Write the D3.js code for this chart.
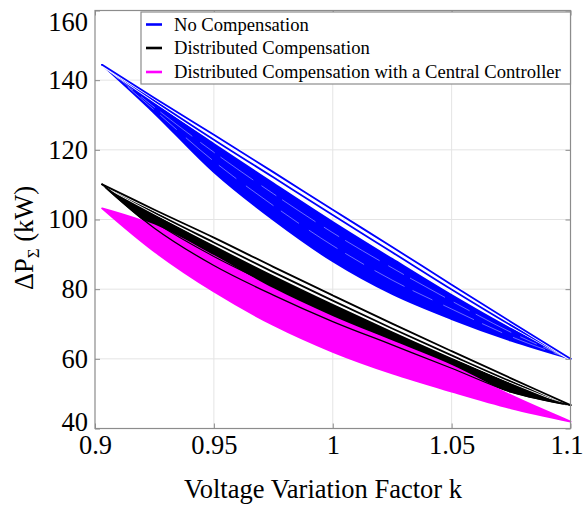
<!DOCTYPE html>
<html><head><meta charset="utf-8">
<script src="https://cdn.jsdelivr.net/npm/d3@7"></script>
<style>
body{margin:0;background:#fff}
svg{display:block}
text{font-family:"Liberation Serif","Times New Roman",Times,serif;fill:#000}
</style>
</head><body>
<svg id="c" width="584" height="505"></svg>
<script>
// ---------- data ----------
const xTicks = [0.9, 0.95, 1, 1.05, 1.1];
const xTickLabels = ["0.9", "0.95", "1", "1.05", "1.1"];
const yTicks = [40, 60, 80, 100, 120, 140, 160];
const yTickLabels = ["40", "60", "80", "100", "120", "140", "160"];
const seriesNames = ["No Compensation", "Distributed Compensation", "Distributed Compensation with a Central Controller"];
const seriesColors = ["#0000ff", "#000000", "#ff00ff"];
const kGrid = [0.903, 0.925, 0.95, 0.975, 1.0, 1.025, 1.05, 1.075, 1.1];

// No Compensation (blue) bundle of traces
const blueTop      = [144.4, 134.9, 124.3, 113.6, 102.8, 92.1, 81.3, 70.6, 60.0];
const blueSecond   = [144.4, 134.1, 122.9, 112.1, 101.3, 90.6, 79.9, 69.6, 60.0];
const blueBandTop  = [144.4, 133.3, 121.7, 110.4, 99.3, 88.7, 78.3, 68.6, 60.0];
const blueLower    = [144.4, 130.5, 113.6, 99.9, 88.0, 78.6, 71.4, 65.2, 60.0];
const blueGapA     = [144.4, 132.2, 119.3, 107.4, 96.2, 86.1, 76.6, 67.6, 60.0];
const blueGapB     = [144.4, 131.4, 116.7, 104.0, 92.5, 82.6, 74.3, 66.4, 60.0];

// Distributed Compensation (black) bundle of traces
const blackTop     = [110.1, 102.8, 94.8, 86.4, 78.2, 70.1, 62.2, 54.4, 46.7];
const blackSecond  = [110.1, 102.0, 93.4, 84.9, 76.7, 68.7, 61.0, 53.5, 46.7];
const blackBandTop = [110.1, 101.3, 92.3, 83.7, 75.5, 67.6, 60.0, 52.8, 46.7];
const blackMid     = [110.1, 99.3, 89.4, 81.0, 73.2, 66.0, 58.8, 51.8, 46.7];
const blackLower   = [110.1, 97.5, 86.8, 78.3, 70.7, 64.0, 57.3, 50.5, 46.7];

// Distributed Compensation with a Central Controller (magenta) bundle of traces
const pinkTop      = [103.2, 98.3, 89.5, 80.0, 72.0, 65.0, 58.0, 49.5, 42.0];
const pinkLower    = [103.2, 90.8, 79.3, 69.7, 62.0, 55.8, 50.6, 45.8, 42.0];

// ---------- chart ----------
const svg = d3.select("#c");
const x = d3.scaleLinear().domain([0.9, 1.1]).range([95, 570.5]);
const y = d3.scaleLinear().domain([40, 160]).range([428.5, 10.5]);
const [x0, x1] = x.range();
const [yb, yt] = y.range();

// grid
const grid = svg.append("g");
grid.selectAll("line.gx").data(xTicks.slice(1, -1)).join("line")
  .attr("x1", d => x(d)).attr("x2", d => x(d)).attr("y1", yt).attr("y2", yb)
  .attr("stroke", "#e4e4e4").attr("stroke-width", 1);
grid.selectAll("line.gy").data(yTicks.slice(1, -1)).join("line")
  .attr("y1", d => y(d)).attr("y2", d => y(d)).attr("x1", x0).attr("x2", x1)
  .attr("stroke", "#e4e4e4").attr("stroke-width", 1);

const curve = d3.curveCatmullRom.alpha(0.5);
const pts = arr => arr.map((v, i) => [kGrid[i], v]);
const line = d3.line().x(d => x(d[0])).y(d => y(d[1])).curve(curve);
const area = (top, low) => d3.area().x((d, i) => x(kGrid[i]))
  .y0((d, i) => y(low[i])).y1((d, i) => y(top[i])).curve(curve)(top);

const plot = svg.append("g");
function band(top, low, color) {
  plot.append("path").attr("d", area(top, low)).attr("fill", color)
    .attr("stroke", color).attr("stroke-width", 1.8).attr("stroke-linejoin", "round");
}
function strand(arr, color, w, halo) {
  if (halo) plot.append("path").attr("d", line(pts(arr))).attr("fill", "none")
    .attr("stroke", "#fff").attr("stroke-width", w + 1.6);
  plot.append("path").attr("d", line(pts(arr))).attr("fill", "none")
    .attr("stroke", color).attr("stroke-width", w).attr("stroke-linecap", "round");
}
function streak(arr, dash) {
  plot.append("path").attr("d", line(pts(arr))).attr("fill", "none")
    .attr("stroke", "#fff").attr("stroke-width", 0.7).attr("stroke-opacity", 0.6)
    .attr("stroke-dasharray", dash);
}

// blue
band(blueBandTop, blueLower, seriesColors[0]);
streak(blueGapA, "40,10,18,7");
streak(blueGapB, "22,12,34,9");
strand(blueSecond, seriesColors[0], 1.8, true);
strand(blueTop, seriesColors[0], 1.8, true);
// black
band(blackBandTop, blackLower, seriesColors[1]);
strand(blackSecond, seriesColors[1], 1.8, true);
strand(blackTop, seriesColors[1], 1.8, true);
// magenta
band(pinkTop, pinkLower, seriesColors[2]);
strand(blackMid, seriesColors[1], 1.1, false);
strand(blackLower, seriesColors[1], 1.3, false);

// axes
const fs = 26.5;
const axB = svg.append("g").attr("transform", `translate(0,${yb})`)
  .call(d3.axisBottom(x).tickValues(xTicks).tickFormat((d, i) => xTickLabels[i]).tickSize(-5).tickPadding(6.7));
const axL = svg.append("g").attr("transform", `translate(${x0},0)`)
  .call(d3.axisLeft(y).tickValues(yTicks).tickFormat((d, i) => yTickLabels[i]).tickSize(-5).tickPadding(7));
const axT = svg.append("g").attr("transform", `translate(0,${yt})`)
  .call(d3.axisTop(x).tickValues(xTicks).tickFormat("").tickSize(-5));
const axR = svg.append("g").attr("transform", `translate(${x1},0)`)
  .call(d3.axisRight(y).tickValues(yTicks).tickFormat("").tickSize(-5));
[axB, axL, axT, axR].forEach(a => {
  a.attr("font-family", null).attr("font-size", null);
  a.select(".domain").remove();
  a.selectAll(".tick line").attr("stroke", "#8c8c8c");
  a.selectAll("text").style("font-size", fs + "px").attr("fill", "#000");
});
// edge labels kept inside like the original
axL.selectAll(".tick text").filter(d => d === 160).attr("dy", "0.76em");
axL.selectAll(".tick text").filter(d => d === 40).attr("dy", "0.08em");
axB.selectAll(".tick text").filter(d => d === 1.1).attr("dx", "-4");

svg.append("rect").attr("x", x0).attr("y", yt).attr("width", x1 - x0).attr("height", yb - yt)
  .attr("fill", "none").attr("stroke", "#8c8c8c").attr("stroke-width", 1.2);

// axis titles
svg.append("text").attr("x", 323).attr("y", 498).attr("text-anchor", "middle")
  .style("font-size", fs + "px").text("Voltage Variation Factor k");
const yl = svg.append("text").attr("transform", "translate(33,238) rotate(-90)")
  .attr("text-anchor", "middle").style("font-size", fs + "px");
yl.append("tspan").text("ΔP");
yl.append("tspan").attr("dy", 6).style("font-size", "17px").text("Σ");
yl.append("tspan").attr("dy", -6).text(" (kW)");

// legend
const lg = svg.append("g");
lg.append("rect").attr("x", 141).attr("y", 12).attr("width", x1 - 141).attr("height", 72)
  .attr("fill", "#fff").attr("stroke", "#8c8c8c").attr("stroke-width", 1.2);
const rowsY = [24.5, 48, 72];
seriesNames.forEach((n, i) => {
  lg.append("line").attr("x1", 146).attr("x2", 162).attr("y1", rowsY[i]).attr("y2", rowsY[i])
    .attr("stroke", seriesColors[i]).attr("stroke-width", 2.6);
  lg.append("text").attr("x", 174).attr("y", rowsY[i]).attr("dy", "0.33em")
    .style("font-size", "18.6px").text(n);
});
</script>
</body></html>
